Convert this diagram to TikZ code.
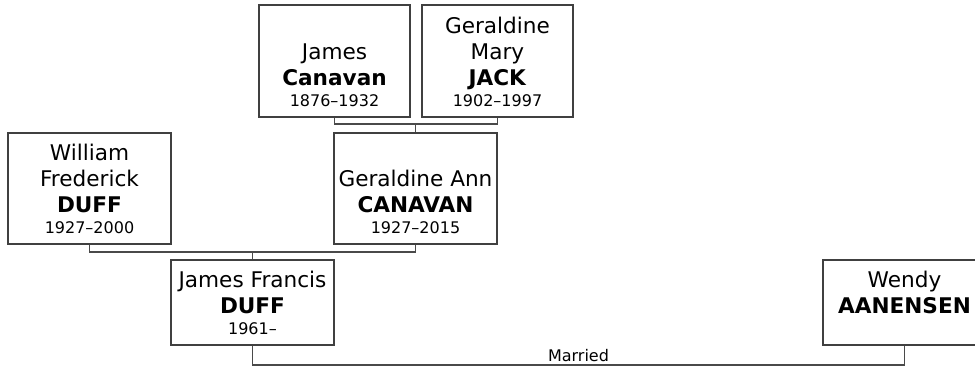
\documentclass[tikz,border=0pt]{standalone}
\usepackage{fontspec}
\setmainfont{DejaVu Sans}
\usepackage{tikz}
\usetikzlibrary{positioning}
\definecolor{boxline}{HTML}{404040}
\definecolor{linkgray}{HTML}{4A4A4A}
\newcommand{\namesize}{\fontsize{16.2}{19.5}\selectfont}
\newcommand{\datesize}{\fontsize{12}{14}\selectfont}

\begin{document}
\begin{tikzpicture}[x=0.75pt, y=-0.75pt,
  person/.style={draw=boxline, line width=1.1pt, minimum width=122.25pt, inner sep=0pt},
  parent/.style={person, minimum width=113.25pt, minimum height=84pt},
  middle/.style={person, minimum height=83.25pt},
  child/.style={person, minimum height=63.75pt},
  who/.style={anchor=south, align=center, inner sep=0pt, font=\namesize, yshift=8pt},
  link/.style={draw=linkgray, line width=1.1pt}]
  \clip (0,0) rectangle (975,366);
  % grandparents
  \node[parent] (jamesC) at (334.5,61) {};
  \node[who] (jamesC-t) at (jamesC.south) {James\\\textbf{Canavan}\\[-3.75pt]{\datesize 1876--1932}};
  \node[parent] (geraldineJ) at (497.5,61) {};
  \node[who] (geraldineJ-t) at (geraldineJ.south) {Geraldine\\Mary\\\textbf{JACK}\\[-3.75pt]{\datesize 1902--1997}};
  % parents
  \node[middle] (william) at (89.5,188.5) {};
  \node[who] (william-t) at (william.south) {William\\Frederick\\\textbf{DUFF}\\[-3.75pt]{\datesize 1927--2000}};
  \node[middle] (geraldineA) at (415.5,188.5) {};
  \node[who] (geraldineA-t) at (geraldineA.south) {Geraldine Ann\\\textbf{CANAVAN}\\[-3.75pt]{\datesize 1927--2015}};
  % couple
  \node[child] (jamesF) at (252.5,302.5) {};
  \node[who] (jamesF-t) at (jamesF.south) {James Francis\\\textbf{DUFF}\\[-3.75pt]{\datesize 1961--}};
  \node[child] (wendy) at (904.5,302.5) {};
  \node[who] (wendy-t) at (wendy.south) {Wendy\\\textbf{AANENSEN}\\[-3.75pt]\mbox{}};

  \coordinate (bar1) at (0,124);
  \coordinate (bar2) at (0,252);
  \coordinate (bar3) at (0,365);
  \draw[link] (jamesC.south) |- (geraldineJ.south |- bar1) -- (geraldineJ.south);
  \draw[link] (geraldineA.north) -- (geraldineA.north |- bar1);
  \draw[link] (william.south) |- (geraldineA.south |- bar2) -- (geraldineA.south);
  \draw[link] (jamesF.north) -- (jamesF.north |- bar2);
  \draw[link] (jamesF.south) |- (wendy.south |- bar3)
    node[pos=0.75, above, inner sep=2pt, font=\datesize] (married) {Married} -- (wendy.south);
\end{tikzpicture}
\end{document}
